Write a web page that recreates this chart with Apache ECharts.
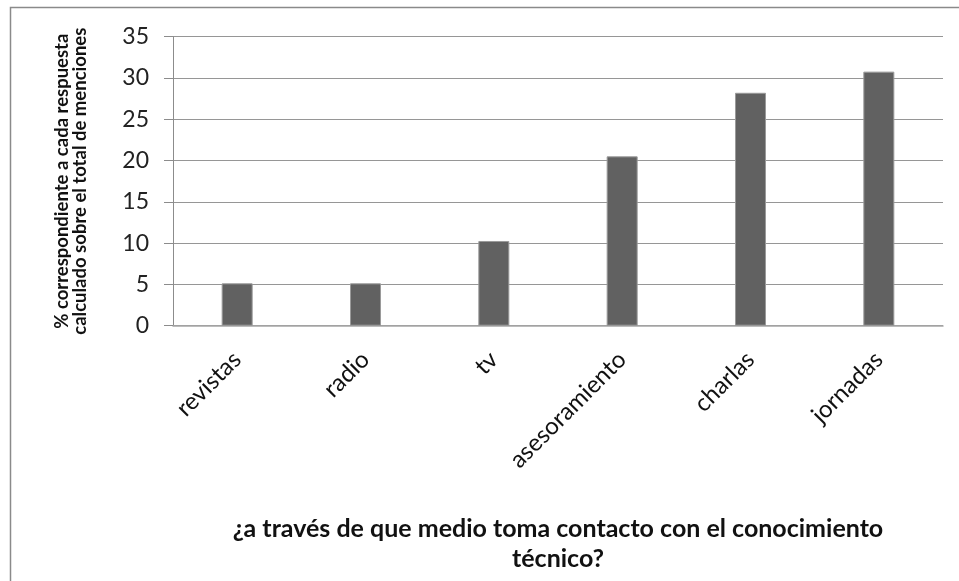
<!DOCTYPE html>
<html>
<head>
<meta charset="utf-8">
<script src="https://cdn.jsdelivr.net/npm/echarts@6/dist/echarts.min.js"></script>
<style>
  html, body { margin: 0; padding: 0; background: #fff; }
  #chart { width: 959px; height: 581px; }
</style>
</head>
<body>
<div id="chart"></div>
<script>
// Medio por el que se toma contacto con el conocimiento técnico (% de menciones)
const categories = ['revistas', 'radio', 'tv', 'asesoramiento', 'charlas', 'jornadas'];
const percentages = [5.13, 5.13, 10.26, 20.51, 28.21, 30.77];
const yTicks = { min: 0, max: 35, interval: 5 };

const yTitle = '% correspondiente a cada respuesta\ncalculado sobre el total de menciones';
const xTitle = '¿a través de que medio toma contacto con el conocimiento\ntécnico?';

const chart = echarts.init(document.getElementById('chart'), null, { renderer: 'canvas' });

chart.setOption({
  animation: false,
  backgroundColor: '#fff',
  textStyle: { fontFamily: 'Lato' },
  graphic: [{
    type: 'rect',
    shape: { x: 10.5, y: 7.5, width: 1000, height: 600 },
    style: { fill: 'none', stroke: '#8a8a8a', lineWidth: 1.5 },
    silent: true
  }],
  grid: { left: 173, right: 16, top: 36.7, bottom: 255.3, containLabel: false },
  xAxis: {
    type: 'category',
    data: categories,
    name: xTitle,
    nameLocation: 'middle',
    nameGap: 188,
    nameTextStyle: {
      fontFamily: 'Lato', fontWeight: 'bold', fontSize: 25, color: '#111',
      lineHeight: 30
    },
    axisLine: { lineStyle: { color: '#a6a6a6', width: 1.5 } },
    axisTick: { show: false },
    axisLabel: {
      rotate: 45, margin: 30, interval: 0,
      fontFamily: 'Lato', fontSize: 24, color: '#111'
    },
    splitLine: { show: false }
  },
  yAxis: {
    type: 'value',
    min: yTicks.min, max: yTicks.max, interval: yTicks.interval,
    name: yTitle,
    nameLocation: 'middle',
    nameGap: 84,
    nameTextStyle: {
      fontFamily: 'Lato', fontWeight: 'bold', fontSize: 18.5, color: '#111',
      lineHeight: 18
    },
    axisLine: { show: true, lineStyle: { color: '#8c8c8c', width: 1 } },
    axisTick: { show: true, length: 9, lineStyle: { color: '#8c8c8c' } },
    axisLabel: { margin: 24, fontFamily: 'Lato', fontSize: 23, color: '#222' },
    splitLine: { show: true, lineStyle: { color: '#969696', width: 1.2 } }
  },
  series: [{
    type: 'bar',
    data: percentages,
    barWidth: 31,
    itemStyle: { color: '#616161', borderColor: '#9a9a9a', borderWidth: 1 }
  }]
});
</script>
</body>
</html>
